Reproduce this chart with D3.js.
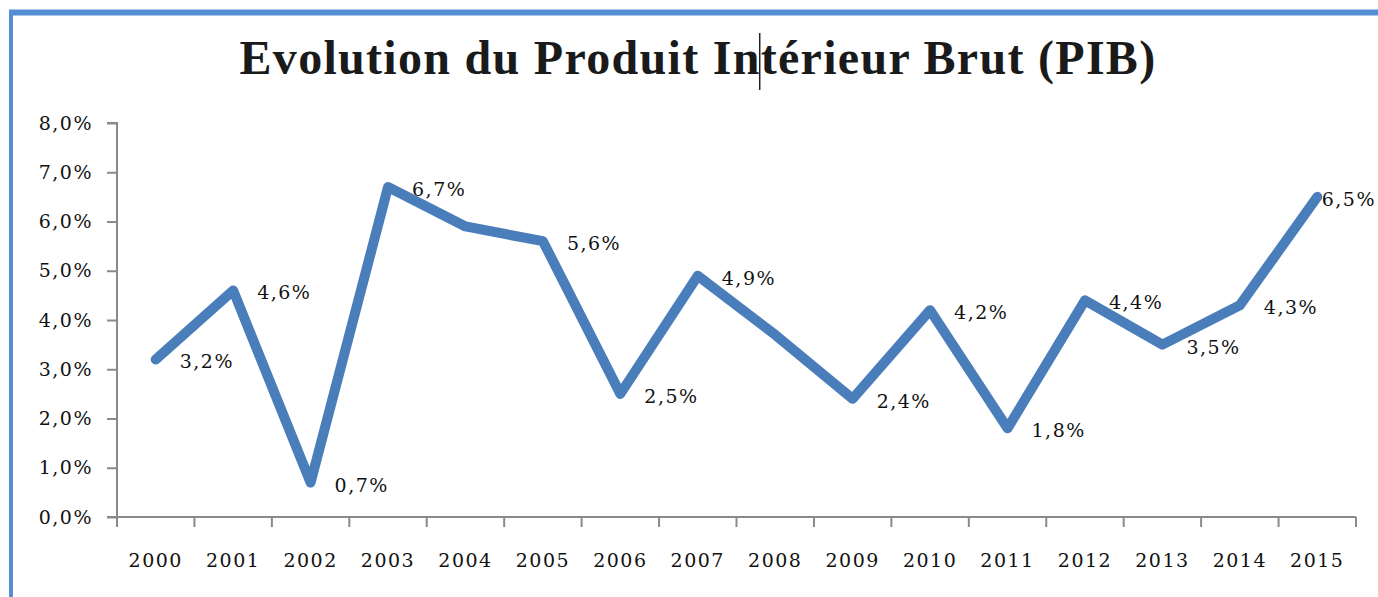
<!DOCTYPE html>
<html>
<head>
<meta charset="utf-8">
<script src="https://cdn.jsdelivr.net/npm/d3@7"></script>
<style>
  body { margin: 0; background: #fff; }
  text { fill: #1a1a1a; }
</style>
</head>
<body>
<div id="chart"></div>
<script>
// data
var years = ["2000", "2001", "2002", "2003", "2004", "2005", "2006", "2007",
             "2008", "2009", "2010", "2011", "2012", "2013", "2014", "2015"];
var pib = [3.2, 4.6, 0.7, 6.7, 5.9, 5.6, 2.5, 4.9, 3.7, 2.4, 4.2, 1.8, 4.4, 3.5, 4.3, 6.5];
// years whose value has a label on the chart
var labelled = [true, true, true, true, false, true, true, true, false, true, true, true, true, true, true, true];
var yTicks = [0, 1, 2, 3, 4, 5, 6, 7, 8];
var title = "Evolution du Produit Intérieur Brut (PIB)";

var width = 1378, height = 597;
var margin = {top: 123, right: 22, bottom: 80, left: 117};

var svg = d3.select("#chart").append("svg")
    .attr("width", width)
    .attr("height", height);

// blue frame (only top and left are in the photo)
svg.append("line")
    .attr("x1", 9).attr("x2", width).attr("y1", 12.5).attr("y2", 12.5)
    .attr("stroke", "#558ed5").attr("stroke-width", 6);
svg.append("line")
    .attr("x1", 11).attr("x2", 11).attr("y1", 10).attr("y2", height)
    .attr("stroke", "#558ed5").attr("stroke-width", 4);

// title
var titleText = svg.append("text")
    .attr("x", 698)
    .attr("y", 74)
    .attr("text-anchor", "middle")
    .style("font-family", "'Liberation Serif', serif")
    .style("font-weight", "bold")
    .style("font-size", "48px")
    .style("letter-spacing", "1.3px")
    .text(title);

// text cursor left in the title, after "In"
var cut = title.indexOf("Int") + 2;
var caretX = titleText.node().getStartPositionOfChar(cut).x - 1;
svg.append("line")
    .attr("x1", caretX).attr("x2", caretX)
    .attr("y1", 33).attr("y2", 90)
    .attr("stroke", "#222").attr("stroke-width", 1.5);

var x = d3.scaleBand()
    .domain(years)
    .range([margin.left, width - margin.right]);

var y = d3.scaleLinear()
    .domain([0, 8])
    .range([height - margin.bottom, margin.top]);

var fmt = function(v) { return d3.format(".1f")(v).replace(".", ",") + "%"; };

var labelFont = function(sel) {
  sel.style("font-family", "'DejaVu Serif', serif")
     .style("font-size", "19px")
     .style("letter-spacing", "1.5px")
     .style("fill", "#111");
};

// y axis
var yAxis = svg.append("g")
    .attr("transform", "translate(" + margin.left + ",0)")
    .call(d3.axisLeft(y).tickValues(yTicks).tickSize(10).tickPadding(14)
          .tickFormat(fmt));
yAxis.selectAll("text").call(labelFont);

// x axis
var xAxis = svg.append("g")
    .attr("transform", "translate(0," + (height - margin.bottom) + ")")
    .call(d3.axisBottom(x).tickSize(0).tickPadding(37));
xAxis.selectAll("text").call(labelFont);
// tick marks sit between the categories
xAxis.selectAll(".sep")
    .data(d3.range(years.length + 1))
  .enter().append("line")
    .attr("class", "sep")
    .attr("x1", function(i) { return margin.left + i * x.step(); })
    .attr("x2", function(i) { return margin.left + i * x.step(); })
    .attr("y1", 0).attr("y2", 10);

svg.selectAll(".domain, .tick line, .sep")
    .attr("stroke", "#8a8a8a")
    .attr("stroke-width", 2);
yAxis.select(".domain").attr("d", "M-10," + y(8) + "H0V" + y(0));
xAxis.select(".domain").attr("d", "M" + (margin.left - 10) + ",0H" + (width - margin.right));

// line
var line = d3.line()
    .x(function(d, i) { return x(years[i]) + x.bandwidth() / 2; })
    .y(function(d) { return y(d); });

svg.append("path")
    .datum(pib)
    .attr("d", line)
    .attr("fill", "none")
    .attr("stroke", "#4a7ebb")
    .attr("stroke-width", 10)
    .attr("stroke-linejoin", "round")
    .attr("stroke-linecap", "round");

// data labels, to the right of each point
var labels = svg.append("g");
pib.forEach(function(v, i) {
  if (!labelled[i]) return;
  var t = labels.append("text")
      .attr("y", y(v) + 9)
      .text(fmt(v))
      .call(labelFont);
  var w = t.node().getComputedTextLength();
  var lx = x(years[i]) + x.bandwidth() / 2 + 24;
  t.attr("x", Math.min(lx, width - 2 - w));
});
</script>
</body>
</html>
